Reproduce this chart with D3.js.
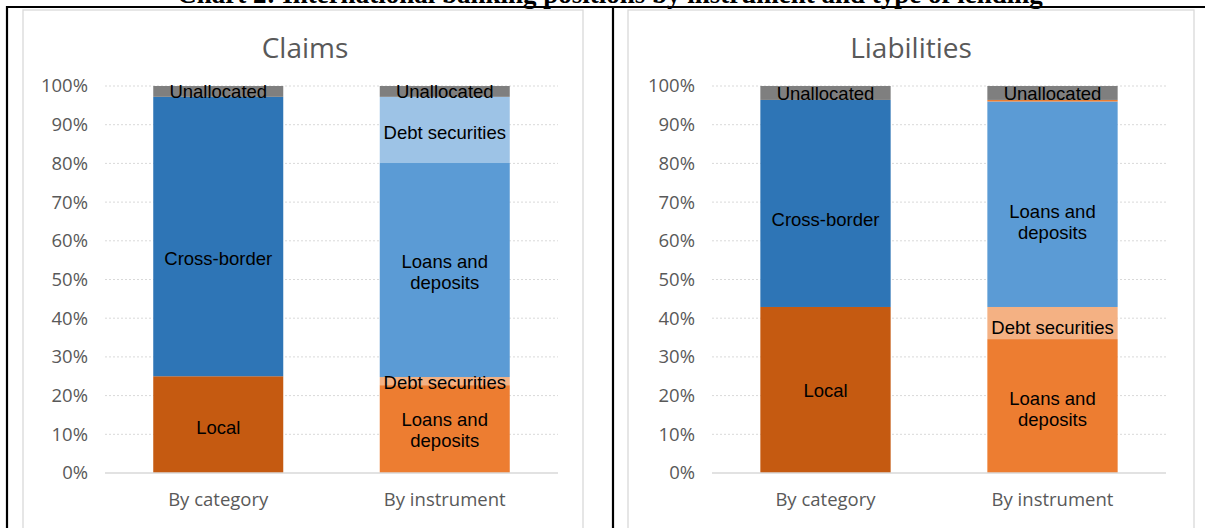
<!DOCTYPE html>
<html>
<head>
<meta charset="utf-8">
<script src="https://cdn.jsdelivr.net/npm/d3@7"></script>
<style>
  body { margin: 0; background: #fff; }
  svg { display: block; }
</style>
</head>
<body>
<div id="chart"></div>
<script>
// categories and tick labels
const categories = ["By category", "By instrument"];
const yTicks = [0, 10, 20, 30, 40, 50, 60, 70, 80, 90, 100];

// Claims
const claimsCatLabels = ["Local", "Cross-border", "Unallocated"];
const claimsCatValues = [25.0, 72.2, 2.8];
const claimsInstLabels = ["Loans and deposits", "Debt securities", "Loans and deposits", "Debt securities", "Unallocated"];
const claimsInstValues = [22.7, 2.1, 55.3, 17.1, 2.8];

// Liabilities
const liabCatLabels = ["Local", "Cross-border", "Unallocated"];
const liabCatValues = [42.9, 53.5, 3.6];
const liabInstLabels = ["Loans and deposits", "Debt securities", "Loans and deposits", "", "Unallocated"];
const liabInstValues = [34.6, 8.3, 53.1, 0.4, 3.6];

const catColors = ["#c55a11", "#2e75b6", "#7f7f7f"];
const claimsInstColors = ["#ed7d31", "#f4b183", "#5b9bd5", "#9dc3e6", "#7f7f7f"];
const liabInstColors = ["#ed7d31", "#f4b183", "#5b9bd5", "#ed7d31", "#7f7f7f"];

// label nudges (px) where the labels were moved by hand in the original
const claimsCatShift = [3, 22, 0];
const claimsInstShift = [1, 1, 2, 3, 0];
const liabCatShift = [1, 16, 1];
const liabInstShift = [3, 4, 18, 0, 1];

const W = 1205, H = 528;
const svg = d3.select("#chart").append("svg")
    .attr("width", W)
    .attr("height", H);

// heading, mostly cut off at the top of the picture
svg.append("text")
   .attr("x", 610)
   .attr("y", 3)
   .attr("text-anchor", "middle")
   .style("font-family", "Liberation Serif, Times New Roman, serif")
   .style("font-weight", "bold")
   .style("font-size", "27px")
   .text("Chart 2: International banking positions by instrument and type of lending");

function drawPanel(opts) {
    const g = svg.append("g");

    // grey chart frame
    g.append("rect")
     .attr("x", opts.frameX)
     .attr("y", 10)
     .attr("width", opts.frameW)
     .attr("height", 530)
     .attr("fill", "#fff")
     .attr("stroke", "#d9d9d9")
     .attr("stroke-width", 1.3);

    g.append("text")
     .attr("x", opts.titleX)
     .attr("y", 58)
     .attr("text-anchor", "middle")
     .style("font-family", "Open Sans, sans-serif")
     .style("font-size", "28px")
     .style("fill", "#595959")
     .text(opts.title);

    const x = d3.scaleBand()
        .domain(categories)
        .range([opts.left, opts.right])
        .paddingInner(0.426)
        .paddingOuter(0.213);

    const y = d3.scaleLinear()
        .domain([0, 100])
        .range([473, 86]);

    // dotted gridlines
    g.append("g")
     .selectAll("line")
     .data(yTicks.filter(d => d > 0))
     .enter()
     .append("line")
     .attr("x1", opts.left)
     .attr("x2", opts.right)
     .attr("y1", d => y(d))
     .attr("y2", d => y(d))
     .attr("stroke", "#d9d9d9")
     .attr("stroke-width", 1)
     .attr("stroke-dasharray", "2,2");

    const yAxis = g.append("g")
        .attr("transform", `translate(${opts.left},0)`)
        .call(d3.axisLeft(y).tickValues(yTicks).tickFormat(d => d + "%").tickSize(0).tickPadding(17));
    yAxis.select(".domain").remove();
    yAxis.selectAll("text")
         .style("font-family", "Open Sans, sans-serif")
         .style("font-size", "18.5px")
         .style("fill", "#595959");

    const xAxis = g.append("g")
        .attr("transform", "translate(0,473)")
        .call(d3.axisBottom(x).tickSize(0).tickPadding(20));
    xAxis.select(".domain").remove();
    xAxis.selectAll("text")
         .style("font-family", "Open Sans, sans-serif")
         .style("font-size", "18.5px")
         .style("fill", "#595959");

    const bars = [
        {cat: categories[0], labels: opts.catLabels, values: opts.catValues, colors: catColors, shift: opts.catShift},
        {cat: categories[1], labels: opts.instLabels, values: opts.instValues, colors: opts.instColors, shift: opts.instShift}
    ];

    bars.forEach(b => {
        const tops = Array.from(d3.cumsum(b.values));
        const segs = b.values.map((v, i) => ({
            label: b.labels[i],
            y0: tops[i] - v,
            y1: tops[i],
            color: b.colors[i],
            shift: b.shift[i]
        }));
        const bg = g.append("g");
        bg.selectAll("rect")
          .data(segs)
          .enter()
          .append("rect")
          .attr("x", x(b.cat))
          .attr("width", x.bandwidth())
          .attr("y", d => y(d.y1))
          .attr("height", d => y(d.y0) - y(d.y1))
          .attr("fill", d => d.color);

        const lbl = bg.selectAll("text")
          .data(segs.filter(d => d.label))
          .enter()
          .append("text")
          .attr("x", x(b.cat) + x.bandwidth() / 2)
          .attr("y", d => (y(d.y0) + y(d.y1)) / 2 + d.shift)
          .attr("text-anchor", "middle")
          .style("font-family", "Liberation Sans, Arial, sans-serif")
          .style("font-size", "18.5px")
          .style("fill", "#000");

        lbl.each(function(d) {
            const t = d3.select(this);
            const lines = d.label === "Loans and deposits" ? ["Loans and", "deposits"] : [d.label];
            lines.forEach((ln, i) => {
                t.append("tspan")
                 .attr("x", x(b.cat) + x.bandwidth() / 2)
                 .attr("dy", i === 0 ? (6.5 - (lines.length - 1) * 10.5) + "px" : "21px")
                 .text(ln);
            });
        });
    });

    // baseline
    g.append("line")
     .attr("x1", opts.left)
     .attr("x2", opts.right)
     .attr("y1", y(0))
     .attr("y2", y(0))
     .attr("stroke", "#d9d9d9")
     .attr("stroke-width", 1.5);
}

drawPanel({
    title: "Claims", titleX: 305, frameX: 23, frameW: 560,
    left: 105, right: 558,
    catLabels: claimsCatLabels, catValues: claimsCatValues, catShift: claimsCatShift,
    instLabels: claimsInstLabels, instValues: claimsInstValues, instColors: claimsInstColors,
    instShift: claimsInstShift
});

drawPanel({
    title: "Liabilities", titleX: 911, frameX: 628, frameW: 566,
    left: 712, right: 1166,
    catLabels: liabCatLabels, catValues: liabCatValues, catShift: liabCatShift,
    instLabels: liabInstLabels, instValues: liabInstValues, instColors: liabInstColors,
    instShift: liabInstShift
});

// black outer frame of the figure
const frame = svg.append("g").attr("stroke", "#000").attr("stroke-width", 2.2);
frame.append("line").attr("x1", 6).attr("x2", W).attr("y1", 7).attr("y2", 7);
frame.append("line").attr("x1", 7).attr("x2", 7).attr("y1", 6).attr("y2", H);
frame.append("line").attr("x1", 613).attr("x2", 613).attr("y1", 6).attr("y2", H);
</script>
</body>
</html>
